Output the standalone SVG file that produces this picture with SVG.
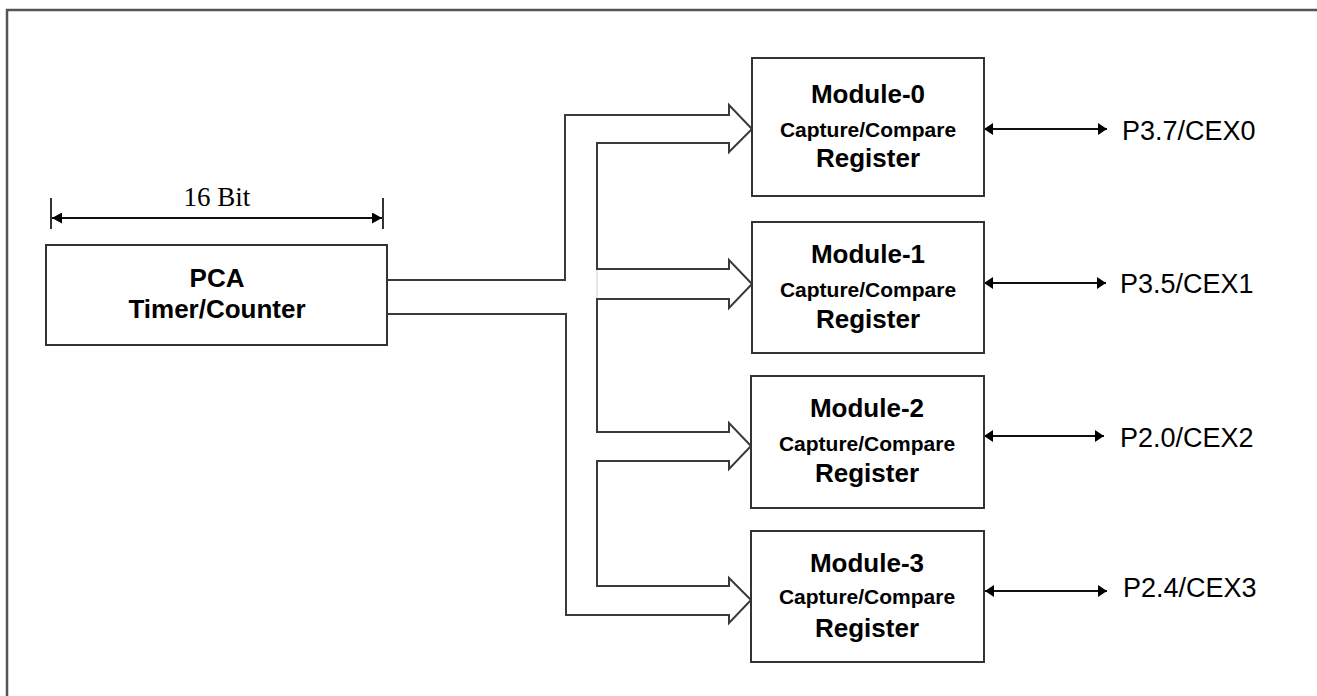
<svg xmlns="http://www.w3.org/2000/svg" width="1317" height="696" viewBox="0 0 1317 696">
  <style>
    .box { fill: #ffffff; stroke: #333333; stroke-width: 2; }
    .bus { fill: none; stroke: #3a3a3a; stroke-width: 2; stroke-linejoin: miter; }
    .wire { fill: none; stroke: #111111; stroke-width: 2; }
    .title { font-family: "Liberation Sans", Arial, sans-serif; font-weight: bold; font-size: 26px; fill: #000000; text-anchor: middle; }
    .sub { font-family: "Liberation Sans", Arial, sans-serif; font-weight: bold; font-size: 21px; fill: #000000; text-anchor: middle; }
    .pin { font-family: "Liberation Sans", Arial, sans-serif; font-size: 27px; fill: #000000; }
    .dim { font-family: "Liberation Serif", "Times New Roman", serif; font-size: 27px; fill: #000000; text-anchor: middle; }
  </style>
  <defs>
    <marker id="head" viewBox="0 0 9 12" refX="9" refY="6" markerWidth="9" markerHeight="12" markerUnits="userSpaceOnUse" orient="auto-start-reverse">
      <path d="M0,0 L9,6 L0,12 z" fill="#000000"/>
    </marker>
    <marker id="dimhead" viewBox="0 0 10 11" refX="10" refY="5.5" markerWidth="10" markerHeight="11" markerUnits="userSpaceOnUse" orient="auto-start-reverse">
      <path d="M0,0 L10,5.5 L0,11 z" fill="#000000"/>
    </marker>
  </defs>

  <rect width="1317" height="696" fill="#ffffff"/>

  <!-- outer frame -->
  <rect x="7" y="10" width="1330" height="710" fill="none" stroke="#555555" stroke-width="2.5"/>

  <!-- width dimension above the counter -->
  <g id="dimension">
    <line x1="51" y1="198" x2="51" y2="229" stroke="#333333" stroke-width="2"/>
    <line x1="383" y1="198" x2="383" y2="229" stroke="#333333" stroke-width="2"/>
    <line x1="52" y1="218" x2="382" y2="218" stroke="#111111" stroke-width="2" marker-start="url(#dimhead)" marker-end="url(#dimhead)"/>
    <text class="dim" x="217" y="206">16 Bit</text>
  </g>

  <!-- connectors: wide bus from the counter to the four modules, and pin links -->
  <g id="connectors">
    <polyline class="bus" points="387,280 565,280 565,115 729,115 729,105 752,129 729,152 729,143 597,143 597,269 729,269 729,260 752,284 729,308 729,299 597,299 597,432 729,432 729,423 751,446 729,469 729,461 597,461 597,586 729,586 729,578 751,600 729,623 729,615 566,615 566,314 387,314"/>
    <line x1="597" y1="270" x2="597" y2="298" stroke="#dddddd" stroke-width="1.5"/>
    <line class="wire" x1="984" y1="129" x2="1107" y2="129" marker-start="url(#head)" marker-end="url(#head)"/>
    <line class="wire" x1="984" y1="283" x2="1106" y2="283" marker-start="url(#head)" marker-end="url(#head)"/>
    <line class="wire" x1="984" y1="436" x2="1104" y2="436" marker-start="url(#head)" marker-end="url(#head)"/>
    <line class="wire" x1="985" y1="591" x2="1107" y2="591" marker-start="url(#head)" marker-end="url(#head)"/>
  </g>

  <g id="pca">
    <rect class="box" x="46" y="245" width="341" height="100"/>
    <text class="title" x="217" y="287">PCA</text>
    <text class="title" x="217" y="318">Timer/Counter</text>
  </g>

  <g id="module0">
    <rect class="box" x="752" y="58" width="232" height="138"/>
    <text class="title" x="868" y="103">Module-0</text>
    <text class="sub" x="868" y="137">Capture/Compare</text>
    <text class="title" x="868" y="167">Register</text>
  </g>

  <g id="module1">
    <rect class="box" x="752" y="222" width="232" height="131"/>
    <text class="title" x="868" y="263">Module-1</text>
    <text class="sub" x="868" y="297">Capture/Compare</text>
    <text class="title" x="868" y="328">Register</text>
  </g>

  <g id="module2">
    <rect class="box" x="751" y="376" width="233" height="132"/>
    <text class="title" x="867" y="417">Module-2</text>
    <text class="sub" x="867" y="451">Capture/Compare</text>
    <text class="title" x="867" y="482">Register</text>
  </g>

  <g id="module3">
    <rect class="box" x="751" y="531" width="233" height="131"/>
    <text class="title" x="867" y="572">Module-3</text>
    <text class="sub" x="867" y="604">Capture/Compare</text>
    <text class="title" x="867" y="637">Register</text>
  </g>

  <g id="pins">
    <text class="pin" x="1122" y="140">P3.7/CEX0</text>
    <text class="pin" x="1120" y="293">P3.5/CEX1</text>
    <text class="pin" x="1120" y="447">P2.0/CEX2</text>
    <text class="pin" x="1123" y="597">P2.4/CEX3</text>
  </g>
</svg>
